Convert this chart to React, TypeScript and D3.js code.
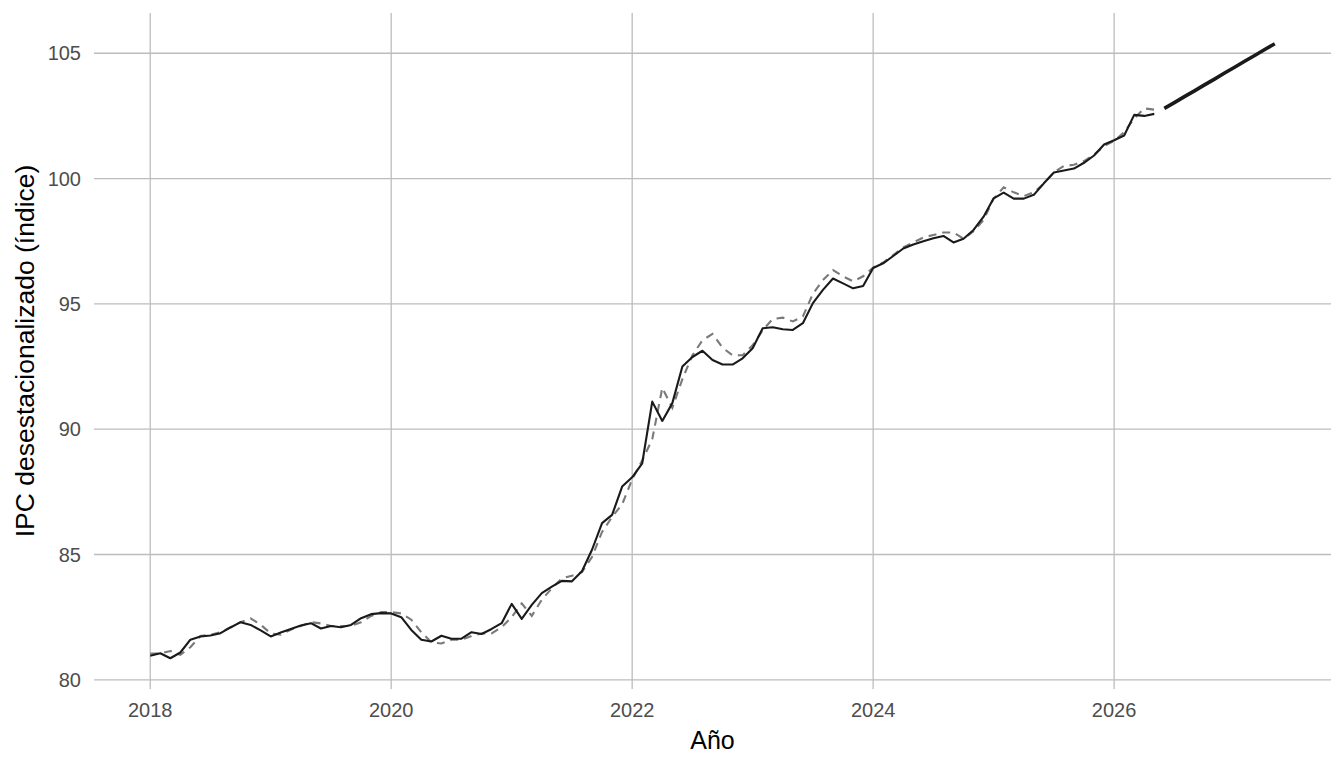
import React from "react";
import * as d3 from "d3";

// Monthly data, January 2018 to May 2026
const startYear = 2018;
const observed: number[] = [
  80.96, 81.06, 80.86, 81.09, 81.6, 81.73, 81.77, 81.86, 82.09, 82.3, 82.19, 81.97,
  81.73, 81.89, 82.03, 82.17, 82.26, 82.05, 82.15, 82.1, 82.19, 82.46, 82.62, 82.66,
  82.65, 82.5, 81.99, 81.6, 81.53, 81.76, 81.64, 81.64, 81.9, 81.83, 82.03, 82.26,
  83.03, 82.43, 82.99, 83.46, 83.72, 83.95, 83.93, 84.33, 85.19, 86.25, 86.58, 87.71,
  88.08, 88.64, 91.1, 90.33, 91.04, 92.5, 92.88, 93.13, 92.76, 92.58, 92.58, 92.83,
  93.23, 94.03, 94.07, 93.99, 93.96, 94.23, 95.03, 95.56, 96.01, 95.82, 95.62, 95.71,
  96.43, 96.62, 96.91, 97.21, 97.37, 97.5, 97.62, 97.71, 97.45, 97.6, 97.95, 98.48,
  99.21, 99.44, 99.2, 99.2, 99.35, 99.81, 100.24, 100.32, 100.4, 100.63, 100.92, 101.36,
  101.53, 101.72, 102.54, 102.5, 102.58,
];

const comparison: number[] = [
  81.05, 81.05, 81.15, 81.0, 81.3, 81.75, 81.8, 81.9, 82.1, 82.3, 82.45, 82.2,
  81.85, 81.8, 82.0, 82.15, 82.3, 82.25, 82.15, 82.15, 82.15, 82.3, 82.55, 82.7,
  82.7, 82.65, 82.4, 81.9, 81.5, 81.45, 81.6, 81.6, 81.75, 81.85, 81.85, 82.1,
  82.5, 83.05, 82.55, 83.2, 83.65, 84.05, 84.15, 84.3, 84.9, 85.9, 86.5, 87.0,
  88.0, 88.75, 89.6, 91.65, 90.85, 92.0, 92.95, 93.55, 93.8, 93.25, 92.95, 92.95,
  93.35, 93.95, 94.4, 94.45, 94.3, 94.5, 95.4, 95.95, 96.35, 96.1, 95.9, 96.1,
  96.45, 96.65, 96.95, 97.25, 97.45, 97.65, 97.75, 97.85, 97.85, 97.6, 97.9, 98.35,
  99.2, 99.65, 99.45, 99.3, 99.45, 99.8, 100.25, 100.5, 100.55, 100.7, 100.95, 101.3,
  101.5, 101.85, 102.4, 102.8, 102.75,
];

// Forecast, June 2026 to May 2027
const forecastStartIndex = 101;
const forecast: number[] = [
  102.8, 103.03, 103.27, 103.5, 103.74, 103.97, 104.21, 104.44, 104.68, 104.91, 105.15, 105.38,
];

const xTicks: number[] = [2018, 2020, 2022, 2024, 2026];
const yTicks: number[] = [80, 85, 90, 95, 100, 105];
const xTitle = "Año";
const yTitle = "IPC desestacionalizado (índice)";

type Pt = { t: number; v: number };
const toPts = (arr: number[], offset: number): Pt[] =>
  arr.map((v, i) => ({ t: startYear + (offset + i) / 12, v }));

export default function App() {
  const W = 1344;
  const H = 768;
  const left = 94;
  const right = 1331;
  const top = 13;
  const bottom = 689;

  const obsPts = toPts(observed, 0);
  const cmpPts = toPts(comparison, 0);
  const fcPts = toPts(forecast, forecastStartIndex);
  const all = [...obsPts, ...cmpPts, ...fcPts];

  const [tMin, tMax] = d3.extent(all, (d) => d.t) as [number, number];
  const [vMin, vMax] = d3.extent(all, (d) => d.v) as [number, number];
  const tPad = (tMax - tMin) * 0.05;
  const vPad = (vMax - vMin) * 0.05;

  const x = d3.scaleLinear().domain([tMin - tPad, tMax + tPad]).range([left, right]);
  const y = d3.scaleLinear().domain([vMin - vPad, vMax + vPad]).range([bottom, top]);

  const line = d3
    .line<Pt>()
    .x((d) => x(d.t))
    .y((d) => y(d.v));

  const font = "'Liberation Sans', Arial, Helvetica, sans-serif";
  const gridColor = "#bdbdbd";

  return (
    <svg
      width={W}
      height={H}
      style={{ position: "absolute", left: 0, top: 0, background: "#fff" }}
      fontFamily={font}
    >
      {yTicks.map((t) => (
        <line key={"gy" + t} x1={left} x2={right} y1={y(t)} y2={y(t)} stroke={gridColor} strokeWidth={1.3} />
      ))}
      {xTicks.map((t) => (
        <line key={"gx" + t} x1={x(t)} x2={x(t)} y1={top} y2={bottom} stroke={gridColor} strokeWidth={1.3} />
      ))}

      <path d={line(cmpPts) || ""} fill="none" stroke="#7a7a7a" strokeWidth={2.1} strokeDasharray="8,6" />
      <path d={line(obsPts) || ""} fill="none" stroke="#1a1a1a" strokeWidth={2.1} strokeLinejoin="round" />
      <path d={line(fcPts) || ""} fill="none" stroke="#1a1a1a" strokeWidth={3.6} />

      {yTicks.map((t) => (
        <text key={"ly" + t} x={left - 13} y={y(t)} dy="0.36em" textAnchor="end" fontSize={20} fill="#4d4d4d">
          {t}
        </text>
      ))}
      {xTicks.map((t) => (
        <text key={"lx" + t} x={x(t)} y={717} textAnchor="middle" fontSize={20} fill="#4d4d4d">
          {t}
        </text>
      ))}

      <text x={(left + right) / 2} y={749} textAnchor="middle" fontSize={25} fill="#000">
        {xTitle}
      </text>
      <text
        transform={`translate(34, ${(top + bottom) / 2}) rotate(-90)`}
        textAnchor="middle"
        fontSize={26.5}
        fill="#000"
      >
        {yTitle}
      </text>
    </svg>
  );
}
